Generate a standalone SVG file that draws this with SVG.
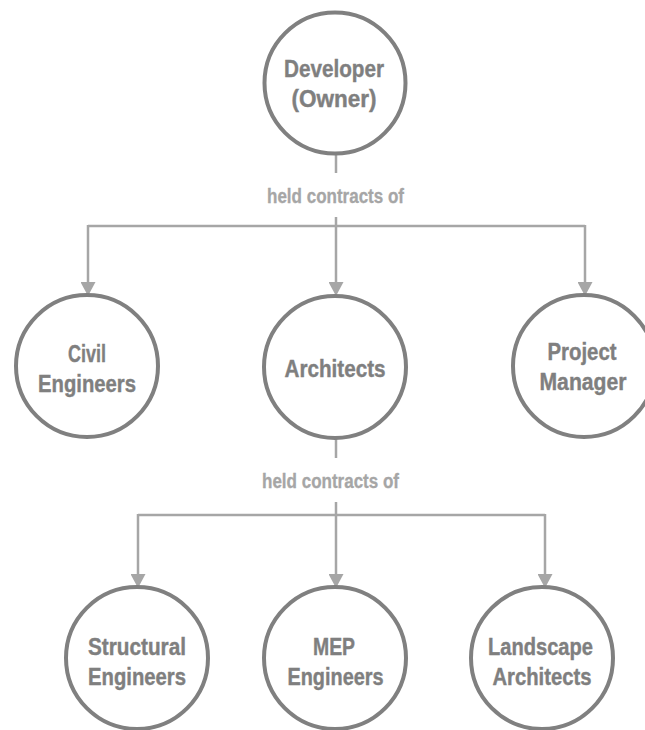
<svg xmlns="http://www.w3.org/2000/svg" width="645" height="730" viewBox="0 0 645 730">
  <style>
    .node circle { fill: #ffffff; stroke: #808080; stroke-width: 4; }
    .node text { font-family: "Liberation Sans", Arial, sans-serif; font-weight: bold; font-size: 23px; fill: #7f7f7f; stroke: #7f7f7f; stroke-width: 0.4; text-anchor: middle; }
    .conn { fill: none; stroke: #a6a6a6; stroke-width: 2.5; }
    .lbl { font-family: "Liberation Sans", Arial, sans-serif; font-weight: bold; font-size: 20px; fill: #a6a6a6; stroke: #a6a6a6; stroke-width: 0.3; text-anchor: middle; }
  </style>
  <defs>
    <marker id="arrow" markerUnits="userSpaceOnUse" markerWidth="15" markerHeight="15" refX="7" refY="7.5" orient="auto">
      <path d="M0,0 L14,7.5 L0,15 Z" fill="#a6a6a6"/>
    </marker>
  </defs>
  <rect width="645" height="730" fill="#ffffff"/>

  <g id="connectors">
    <path class="conn" d="M336,155 V173"/>
    <text class="lbl" x="335.5" y="203" textLength="137" lengthAdjust="spacingAndGlyphs">held contracts of</text>
    <path class="conn" d="M336,217 V289" marker-end="url(#arrow)"/>
    <path class="conn" d="M88,226 H585"/>
    <path class="conn" d="M88,225 V289" marker-end="url(#arrow)"/>
    <path class="conn" d="M585,225 V289" marker-end="url(#arrow)"/>

    <path class="conn" d="M336,439 V458"/>
    <text class="lbl" x="330.5" y="488" textLength="137" lengthAdjust="spacingAndGlyphs">held contracts of</text>
    <path class="conn" d="M336,502 V581" marker-end="url(#arrow)"/>
    <path class="conn" d="M138,515 H545"/>
    <path class="conn" d="M138,514 V581" marker-end="url(#arrow)"/>
    <path class="conn" d="M545,514 V581" marker-end="url(#arrow)"/>
  </g>

  <g id="node-developer" class="node">
    <circle cx="335" cy="83" r="70.5"/>
    <text x="334" y="77" textLength="100" lengthAdjust="spacingAndGlyphs">Developer</text>
    <text x="334" y="107" textLength="85" lengthAdjust="spacingAndGlyphs">(Owner)</text>
  </g>
  <g id="node-civil" class="node">
    <circle cx="87" cy="366" r="71"/>
    <text x="87" y="362" textLength="38" lengthAdjust="spacingAndGlyphs">Civil</text>
    <text x="87" y="392" textLength="98" lengthAdjust="spacingAndGlyphs">Engineers</text>
  </g>
  <g id="node-architects" class="node">
    <circle cx="335" cy="367" r="71"/>
    <text x="335" y="377" textLength="101" lengthAdjust="spacingAndGlyphs">Architects</text>
  </g>
  <g id="node-pm" class="node">
    <circle cx="584" cy="366" r="71"/>
    <text x="582" y="360" textLength="69" lengthAdjust="spacingAndGlyphs">Project</text>
    <text x="583" y="390" textLength="87" lengthAdjust="spacingAndGlyphs">Manager</text>
  </g>
  <g id="node-structural" class="node">
    <circle cx="137" cy="658" r="71"/>
    <text x="137" y="655" textLength="98" lengthAdjust="spacingAndGlyphs">Structural</text>
    <text x="137" y="685" textLength="98" lengthAdjust="spacingAndGlyphs">Engineers</text>
  </g>
  <g id="node-mep" class="node">
    <circle cx="335" cy="658" r="71"/>
    <text x="334" y="655" textLength="42" lengthAdjust="spacingAndGlyphs">MEP</text>
    <text x="335.5" y="685" textLength="96" lengthAdjust="spacingAndGlyphs">Engineers</text>
  </g>
  <g id="node-landscape" class="node">
    <circle cx="542" cy="658" r="71"/>
    <text x="540.5" y="655" textLength="105" lengthAdjust="spacingAndGlyphs">Landscape</text>
    <text x="542" y="685" textLength="99" lengthAdjust="spacingAndGlyphs">Architects</text>
  </g>
</svg>
